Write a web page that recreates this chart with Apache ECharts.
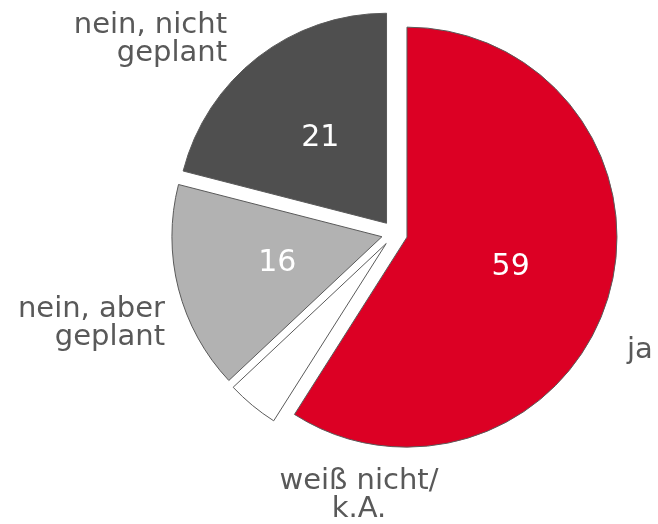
<!DOCTYPE html>
<html>
<head>
<meta charset="utf-8">
<script src="https://cdn.jsdelivr.net/npm/echarts@6/dist/echarts.min.js"></script>
<style>
  html, body { margin: 0; padding: 0; background: #fff; }
  #main { width: 658px; height: 524px; }
</style>
</head>
<body>
<div id="main"></div>
<script>
// data, clockwise from 12 o'clock
const categories = ['ja', 'weiß nicht/\nk.A.', 'nein, aber\ngeplant', 'nein, nicht\ngeplant'];
const values = [59, 4, 16, 21];
const colors = ['#dc0024', '#ffffff', '#b2b2b2', '#4f4f4f'];
const showValue = [true, false, true, true];

// hand placed category names (like the original)
const namePos = [
  { x: 627, y: 350, align: 'left' },
  { x: 359, y: 495, align: 'center' },
  { x: 165, y: 323, align: 'right' },
  { x: 227, y: 39, align: 'right' }
];

const font = 'DejaVu Sans';

let pieData = categories.map((name, i) => ({
  name: name,
  value: values[i],
  selected: true,
  itemStyle: { color: colors[i] },
  label: { show: showValue[i] }
}));

// category names as plain text next to the slices
let nameTexts = categories.map((name, i) => ({
  type: 'text',
  x: namePos[i].x,
  y: namePos[i].y,
  silent: true,
  style: {
    text: name,
    fill: '#595959',
    font: '29px "' + font + '"',
    lineHeight: 28,
    align: namePos[i].align,
    verticalAlign: 'middle'
  }
}));

let option = {
  animation: false,
  graphic: nameTexts,
  series: [
    {
      name: 'Anteil',
      type: 'pie',
      center: [394.5, 233.5],
      radius: 210,
      startAngle: 90,
      selectedMode: 'multiple',
      selectedOffset: 13,
      data: pieData,
      itemStyle: { borderColor: '#5a5a5a', borderWidth: 1 },
      select: { itemStyle: { borderColor: '#5a5a5a', borderWidth: 1 } },
      emphasis: { disabled: true },
      label: {
        position: 'inside',
        formatter: '{c}',
        color: '#fff',
        fontFamily: font,
        fontSize: 30
      },
      labelLine: { show: false }
    }
  ]
};

let myChart = echarts.init(document.getElementById('main'));
myChart.setOption(option);
window.onresize = myChart.resize;
</script>
</body>
</html>
